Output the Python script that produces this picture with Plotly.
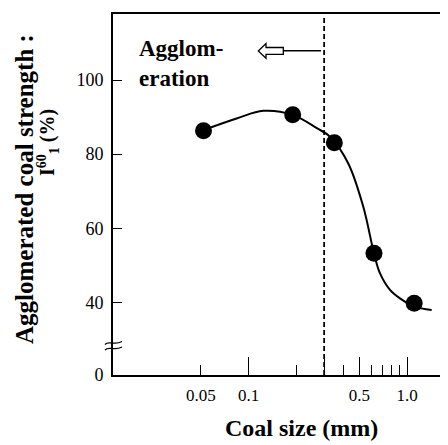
import plotly.graph_objects as go

# ---- data ----
size_mm = [0.052, 0.19, 0.348, 0.619, 1.11]
strength = [86.3, 90.6, 83.1, 53.3, 39.8]
curve_x = [0.052, 0.085, 0.124, 0.19, 0.27, 0.327, 0.426, 0.53, 0.619, 0.675, 0.781, 0.903, 1.112, 1.431]
curve_y = [86.5, 89.7, 91.7, 90.6, 87.0, 84.7, 77.5, 65.8, 53.3, 47.9, 43.4, 41.1, 38.9, 38.0]
boundary_mm = 0.3
x_tick_vals = [0.05, 0.1, 0.5, 1.0]
x_tick_text = ["0.05", "0.1", "0.5", "1.0"]
x_long_ticks = [0.1, 0.3, 0.5, 1.0]
x_minor_ticks = [0.2, 0.3, 0.4, 0.6, 0.7, 0.8, 0.9]
y_bottom = 20.45
y_tick_vals = [y_bottom, 40, 60, 80, 100]
y_tick_text = ["0", "40", "60", "80", "100"]

OFF = 8  # page body margin
W, H = 448 - OFF, 445 - OFF
L, R, T, B = 113 - OFF, 0, 14 - OFF, 70
PW, PH = W - L - R, H - T - B

def px(x):
    return (x - OFF - L) / PW

def py(y):
    return (OFF + T + PH - y) / PH

SERIF = "Liberation Serif, Times New Roman, serif"

fig = go.Figure()
fig.add_trace(go.Scatter(x=curve_x, y=curve_y, mode="lines",
                         line=dict(color="black", width=2, shape="spline", smoothing=1.0),
                         hoverinfo="skip", showlegend=False))
fig.add_trace(go.Scatter(x=size_mm, y=strength, mode="markers",
                         marker=dict(color="black", size=17), showlegend=False))
fig.add_trace(go.Scatter(x=[boundary_mm, boundary_mm], y=[y_bottom, 117.3], mode="lines",
                         line=dict(color="black", width=1.8, dash="5px,3px"),
                         hoverinfo="skip", showlegend=False))
fig.add_trace(go.Scatter(x=[1.0], y=[None], xaxis="x2", mode="markers", showlegend=False))

shapes = []
# arrow stem
shapes.append(dict(type="line", xref="paper", yref="paper",
                   x0=px(283.3), x1=px(321), y0=py(50.7), y1=py(50.7),
                   line=dict(color="black", width=1.5)))
# hollow arrow head
pts = [(258.3, 51.0), (266, 43.5), (266, 47.5), (283.3, 47.5), (283.3, 54.3), (266, 54.3), (266, 58.3)]
path = "M " + " L ".join(f"{px(a):.4f},{py(b):.4f}" for a, b in pts) + " Z"
shapes.append(dict(type="path", xref="paper", yref="paper", path=path,
                   line=dict(color="black", width=1.3), fillcolor="white"))
# axis break squiggles
for yy in (343.0, 348.5):
    p = (f"M {px(105):.4f},{py(yy+1.5):.4f} C {px(109):.4f},{py(yy-3):.4f} "
         f"{px(114):.4f},{py(yy+3):.4f} {px(122):.4f},{py(yy-1.5):.4f}")
    shapes.append(dict(type="path", xref="paper", yref="paper", path=p,
                       line=dict(color="black", width=1.3)))

annotations = [
    dict(text="<b>Agglomerated coal strength :</b>", xref="paper", yref="paper",
         x=px(24), y=py(189), textangle=-90, showarrow=False,
         font=dict(family=SERIF, size=25, color="black"), xanchor="center", yanchor="middle"),
    dict(text="<b>I<sup>60</sup><sub>1</sub> (%)</b>", xref="paper", yref="paper",
         x=px(48), y=py(143), textangle=-90, showarrow=False,
         font=dict(family=SERIF, size=20, color="black"), xanchor="center", yanchor="middle"),
    dict(text="<b>Coal size (mm)</b>", xref="paper", yref="paper",
         x=px(301.5), y=py(428), showarrow=False,
         font=dict(family=SERIF, size=24, color="black"), xanchor="center", yanchor="middle"),
    dict(text="<b>Agglom-<br>eration</b>", xref="paper", yref="paper",
         x=px(137), y=py(34), showarrow=False, align="left",
         font=dict(family=SERIF, size=23, color="black"), xanchor="left", yanchor="top"),
]

fig.update_layout(
    width=W, height=H, margin=dict(l=L, r=R, t=T, b=B, pad=0),
    plot_bgcolor="white", paper_bgcolor="white",
    shapes=shapes, annotations=annotations, showlegend=False,
    xaxis=dict(type="log", range=[-1.855, 0.2587], showgrid=False, zeroline=False,
               showline=True, linecolor="black", linewidth=1.6, mirror=True,
               tickmode="array", tickvals=x_tick_vals, ticktext=x_tick_text,
               ticks="inside", ticklen=10, tickwidth=1.4, tickcolor="black",
               ticklabelstandoff=4,
               tickfont=dict(family=SERIF, size=17, color="black"),
               minor=dict(tickmode="array", tickvals=x_minor_ticks, ticks="inside",
                          ticklen=10, tickwidth=1.2, tickcolor="black", showgrid=False)),
    xaxis2=dict(type="log", range=[-1.855, 0.2587], overlaying="x", anchor="y", side="bottom",
                showgrid=False, zeroline=False, showline=False, showticklabels=False,
                tickmode="array", tickvals=x_long_ticks, ticks="inside", ticklen=18,
                tickwidth=1.4, tickcolor="black"),
    yaxis=dict(range=[y_bottom, 117.8], showgrid=False, zeroline=False,
               showline=True, linecolor="black", linewidth=1.6, mirror=False,
               tickmode="array", tickvals=y_tick_vals, ticktext=y_tick_text,
               ticks="inside", ticklen=9, tickwidth=1.3, tickcolor="black",
               ticklabelstandoff=4,
               tickfont=dict(family=SERIF, size=18, color="black")),
)

fig.write_html("out.html")
